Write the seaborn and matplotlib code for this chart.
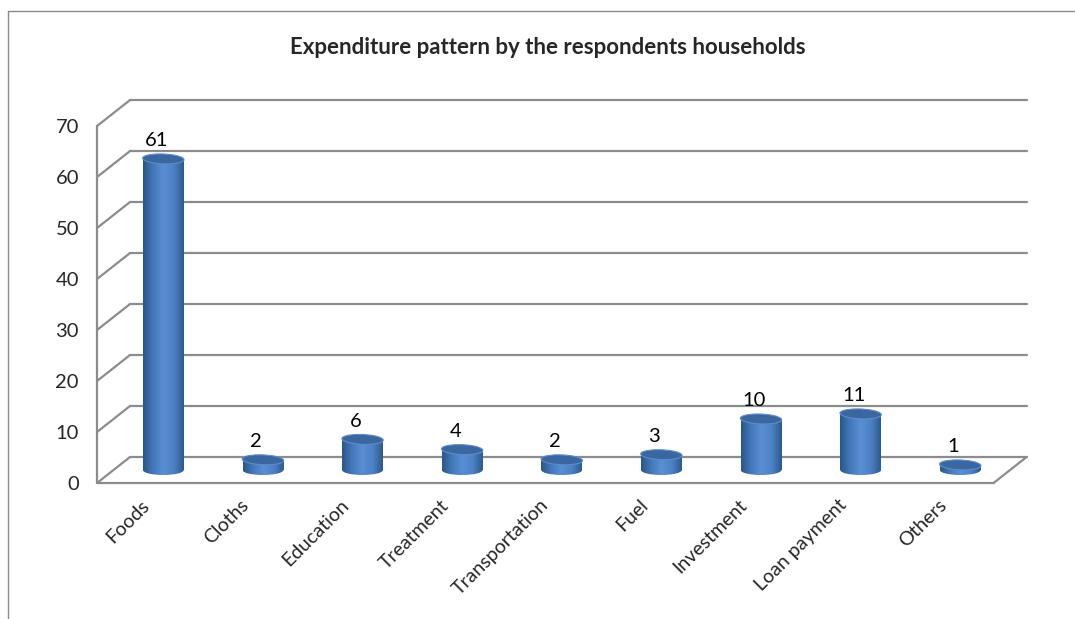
import numpy as np
import pandas as pd
import matplotlib
matplotlib.use('Agg')
import matplotlib.pyplot as plt
import matplotlib.transforms as mtransforms
from matplotlib.colors import LinearSegmentedColormap
from matplotlib.patches import Ellipse
from matplotlib.lines import Line2D
import seaborn as sns

# data
categories = ['Foods', 'Cloths', 'Education', 'Treatment', 'Transportation',
              'Fuel', 'Investment', 'Loan payment', 'Others']
values = [61, 2, 6, 4, 2, 3, 10, 11, 1]
y_ticks = [0, 10, 20, 30, 40, 50, 60, 70]
title = 'Expenditure pattern by the respondents households'

df = pd.DataFrame({'item': categories, 'count': values})

sns.set_style('white')
plt.rcParams['font.family'] = ['Lato', 'DejaVu Sans']

fig = plt.figure(figsize=(10.75, 6.19), dpi=100)
# axes = middle depth plane of the fake 3d box
ax = fig.add_axes([0.1056, 0.2407, 0.834, 0.5767])

sns.barplot(data=df, x='item', y='count', color='#4a7ebf', width=0.41,
            errorbar=None, ax=ax, zorder=3)

# depth offset of the front/back planes (pixels -> data units)
ux = ax.bbox.width / 9.0
uy = ax.bbox.height / 70.0
dx = 16.5 / ux
dy = 13.0 / uy

# walls / grid
kw = dict(color='#8c8c8c', lw=1.6, clip_on=False, zorder=1, solid_capstyle='round')
for v in y_ticks:
    ax.plot([-0.5 + dx, 8.5 + dx], [v + dy, v + dy], **kw)
    ax.plot([-0.5 - dx, -0.5 + dx], [v - dy, v + dy], **kw)
ax.plot([-0.5 - dx, -0.5 - dx], [-dy, 70 - dy], **kw)
ax.plot([-0.5 - dx, 8.5 - dx], [-dy, -dy], **kw)
ax.plot([8.5 - dx, 8.5 + dx], [-dy, dy], **kw)

# cylinders
body_cmap = LinearSegmentedColormap.from_list(
    'body', ['#2a5686', '#4379bb', '#5a8fd3', '#4c82c5', '#2c5a8c'])
grad = np.linspace(0, 1, 256).reshape(1, -1)
eh = 10.0 / uy

for bar in ax.patches:
    x0 = bar.get_x()
    w = bar.get_width()
    h = bar.get_height()
    xc = x0 + w / 2
    bar.set_facecolor('none')
    bar.set_edgecolor('none')
    im = ax.imshow(grad, extent=[x0, x0 + w, 0, h], cmap=body_cmap,
                   aspect='auto', zorder=3, interpolation='bilinear')
    im.set_clip_path(bar)
    bottom = Ellipse((xc, 0), w, eh, transform=ax.transData)
    im2 = ax.imshow(grad, extent=[x0, x0 + w, -eh, eh], cmap=body_cmap,
                    aspect='auto', zorder=3, interpolation='bilinear')
    im2.set_clip_box(fig.bbox)
    im2.set_clip_path(bottom)
    top = Ellipse((xc, h), w, eh, angle=2, facecolor='#3b67a0', edgecolor='#5d8ccb',
                  lw=0.8, zorder=4)
    ax.add_patch(top)

labels = ax.bar_label(ax.containers[0], padding=7, fontsize=14.5, color='black')
# labels sit slightly to the left of the cylinder centre
for t in labels:
    t.xyann = (t.xyann[0] - 5, t.xyann[1])

ax.set_xlim(-0.5, 8.5)
ax.set_ylim(0, 70)
for s in ax.spines.values():
    s.set_visible(False)

ax.set_xlabel('')
ax.set_ylabel('')
ax.set_yticks(y_ticks)
ax.tick_params(axis='y', length=0, pad=13, labelsize=14.5)
ax.set_xticks(range(len(categories)))
ax.set_xticklabels(categories, rotation=45, ha='right', va='center',
                   rotation_mode='anchor')
ax.tick_params(axis='x', length=0, pad=14, labelsize=14)

front = mtransforms.ScaledTranslation(-0.165, -0.13, fig.dpi_scale_trans)
for lab in ax.get_yticklabels() + ax.get_xticklabels():
    lab.set_transform(lab.get_transform() + front)

fig.text(0.51, 1 - 47 / 619, title, ha='center', va='center',
         fontsize=16, fontweight='bold')

# chart area border (left and top edge visible)
fig.add_artist(Line2D([8 / 1075, 8 / 1075], [0, 1 - 11 / 619], color='#8a8a8a', lw=1))
fig.add_artist(Line2D([8 / 1075, 1], [1 - 11 / 619, 1 - 11 / 619], color='#8a8a8a', lw=1))

fig.savefig('out.png', dpi=100)
